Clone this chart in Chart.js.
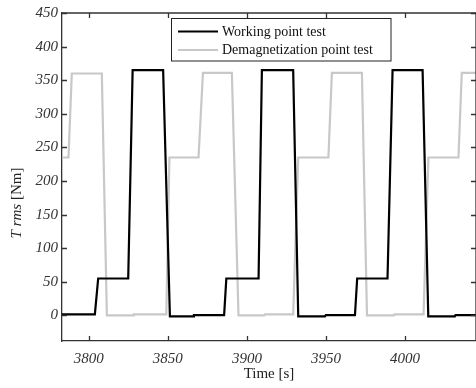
<!DOCTYPE html>
<html>
<head>
<meta charset="utf-8">
<script src="https://cdn.jsdelivr.net/npm/chart.js@4/dist/chart.umd.min.js"></script>
<style>
html,body{margin:0;padding:0;background:#fff;}
#wrap{width:476px;height:388px;position:relative;}
</style>
</head>
<body>
<div id="wrap"><canvas id="c" width="476" height="388"></canvas></div>
<script>
// ---- data ----
const seriesNames = ["Working point test", "Demagnetization point test"];
const workingTime = [3783, 3803.8, 3805.9, 3824.9, 3827.7, 3847, 3851.3, 3866, 3866.5, 3885.6, 3887, 3907.4, 3909.5, 3929.3, 3932.5, 3949.4, 3950, 3968.4, 3969.8, 3989, 3992.2, 4011.2, 4014.8, 4031.6, 4032, 4045];
const workingTorque = [1.5, 1.5, 55, 55, 365, 365, -1.5, -1.5, 0.5, 0.5, 55, 55, 365, 365, -1.5, -1.5, 0.5, 0.5, 55, 55, 365, 365, -1.5, -1.5, 0.5, 0.5];
const demagTime = [3783, 3787.1, 3789.2, 3808.2, 3811.4, 3828.2, 3828.5, 3849, 3851, 3869.4, 3872.2, 3890.5, 3894.7, 3911, 3911.5, 3929.3, 3932.5, 3951.6, 3953.8, 3972.8, 3976, 3993, 3993.5, 4011.8, 4014.9, 4033.9, 4036, 4045];
const demagTorque = [235, 235, 360, 360, 0, 0, 1.5, 1.5, 235, 235, 361, 361, 0, 0, 1.5, 1.5, 235, 235, 361, 361, 0, 0, 1.5, 1.5, 235, 235, 361, 361];
const xTickValues = [3800, 3850, 3900, 3950, 4000];
const yTickValues = [0, 50, 100, 150, 200, 250, 300, 350, 400, 450];
const xRange = [3783, 4045];
const yRange = [-38, 450];

const toPts = (t, v) => t.map((x, i) => ({x: x, y: v[i]}));

const AXIS = '#333333';
const FONT = "'Liberation Serif', 'Times New Roman', serif";

const framePlugin = {
  id: 'frame',
  afterDraw(chart) {
    const ctx = chart.ctx, a = chart.chartArea;
    const xs = chart.scales.x, ys = chart.scales.y;
    ctx.save();
    ctx.strokeStyle = AXIS;
    ctx.lineWidth = 1.3;
    ctx.beginPath();
    ctx.moveTo(a.left, a.top); ctx.lineTo(a.right, a.top);
    ctx.moveTo(a.right, a.top); ctx.lineTo(a.right, a.bottom);
    ctx.stroke();
    const L = 5;
    ctx.beginPath();
    xTickValues.forEach(v => {
      const px = Math.round(xs.getPixelForValue(v)) + 0.5;
      ctx.moveTo(px, a.bottom); ctx.lineTo(px, a.bottom - L);
      ctx.moveTo(px, a.top); ctx.lineTo(px, a.top + L);
    });
    yTickValues.forEach(v => {
      const py = Math.round(ys.getPixelForValue(v)) + 0.5;
      ctx.moveTo(a.left, py); ctx.lineTo(a.left + L, py);
      ctx.moveTo(a.right, py); ctx.lineTo(a.right - L, py);
    });
    ctx.stroke();

    // axis titles
    ctx.fillStyle = '#222';
    ctx.textBaseline = 'middle';
    ctx.font = "15px " + FONT;
    ctx.textAlign = 'center';
    ctx.fillText('Time [s]', (a.left + a.right) / 2 + 0, 374);

    ctx.save();
    ctx.translate(17, 203);
    ctx.rotate(-Math.PI / 2);
    const p1 = 'T rms', p2 = ' [Nm]';
    ctx.font = "italic 15px " + FONT;
    const w1 = ctx.measureText(p1).width;
    ctx.font = "15px " + FONT;
    const w2 = ctx.measureText(p2).width;
    let x0 = -(w1 + w2) / 2;
    ctx.textAlign = 'left';
    ctx.font = "italic 15px " + FONT;
    ctx.fillText(p1, x0, 0);
    ctx.font = "15px " + FONT;
    ctx.fillText(p2, x0 + w1, 0);
    ctx.restore();

    // legend
    const bx = 171.5, by = 18.5, bw = 219.5, bh = 42.5;
    ctx.fillStyle = '#fff';
    ctx.fillRect(bx, by, bw, bh);
    ctx.strokeStyle = '#222';
    ctx.lineWidth = 1;
    ctx.strokeRect(bx, by, bw, bh);
    const rows = [31.5, 50];
    chart.data.datasets.forEach((ds, i) => {
      ctx.strokeStyle = ds.borderColor;
      ctx.lineWidth = ds.borderWidth;
      ctx.beginPath();
      ctx.moveTo(178, rows[i]); ctx.lineTo(218, rows[i]);
      ctx.stroke();
      ctx.fillStyle = '#111';
      ctx.font = "14px " + FONT;
      ctx.textAlign = 'left';
      ctx.textBaseline = 'middle';
      ctx.fillText(ds.label, 222, rows[i] + 0.5);
    });
    ctx.restore();
  }
};

new Chart(document.getElementById('c'), {
  type: 'line',
  data: {
    datasets: [
      {label: seriesNames[0], data: toPts(workingTime, workingTorque), borderColor: '#000000', borderWidth: 2.2, pointRadius: 0, tension: 0, fill: false},
      {label: seriesNames[1], data: toPts(demagTime, demagTorque), borderColor: '#c8c8c8', borderWidth: 2.2, pointRadius: 0, tension: 0, fill: false}
    ]
  },
  options: {
    responsive: false,
    animation: false,
    layout: {padding: {top: 12, right: 0, left: 0, bottom: 0}},
    plugins: {legend: {display: false}, tooltip: {enabled: false}},
    scales: {
      x: {
        type: 'linear', min: xRange[0], max: xRange[1],
        afterBuildTicks: s => { s.ticks = xTickValues.map(v => ({value: v})); },
        afterFit: s => { s.height = 47; },
        grid: {display: false, drawTicks: false},
        border: {display: true, color: AXIS, width: 1.3},
        ticks: {padding: 9, color: '#333', font: {family: FONT, size: 15, style: 'italic'}, maxRotation: 0,
                callback: v => String(v)}
      },
      y: {
        type: 'linear', min: yRange[0], max: yRange[1],
        afterBuildTicks: s => { s.ticks = yTickValues.map(v => ({value: v})); },
        afterFit: s => { s.width = 62; },
        grid: {display: false, drawTicks: false},
        border: {display: true, color: AXIS, width: 1.3},
        ticks: {padding: 4, color: '#333', font: {family: FONT, size: 15, style: 'italic'},
                callback: v => String(v)}
      }
    }
  },
  plugins: [framePlugin]
});
</script>
</body>
</html>
